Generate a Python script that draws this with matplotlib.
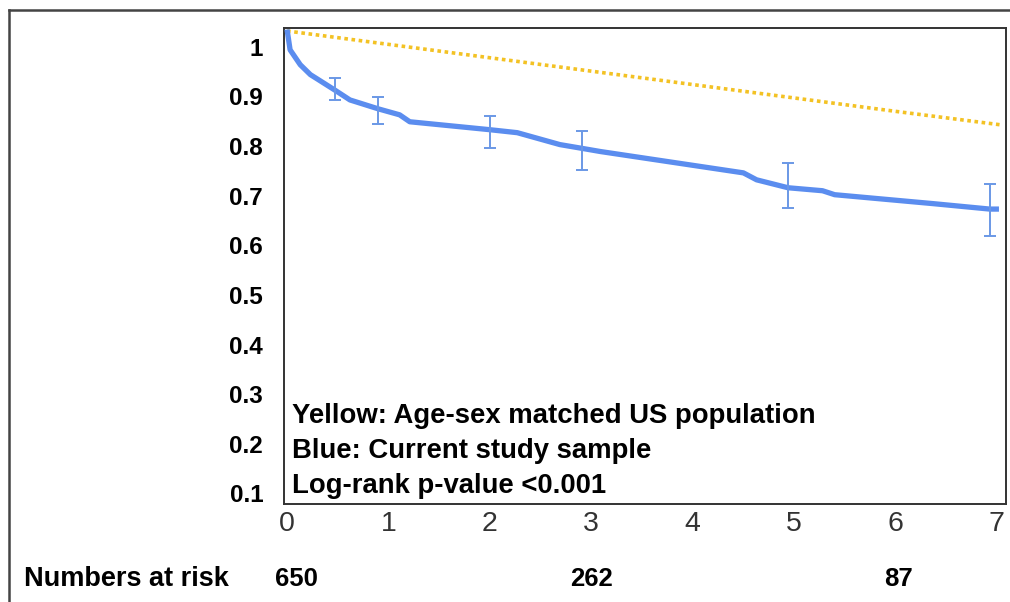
import matplotlib
matplotlib.use("Agg")
import matplotlib.pyplot as plt
from matplotlib.lines import Line2D

plt.rcParams["font.family"] = ["Liberation Sans", "DejaVu Sans"]

# survival curve of the study sample (years, proportion surviving)
study_years = [0, 0.03, 0.13, 0.23, 0.30, 0.47, 0.62, 0.90, 1.11, 1.21, 2.00, 2.27,
               2.69, 2.92, 3.09, 4.50, 4.63, 4.94, 5.28, 5.40, 6.37, 6.93, 7.02]
study_surv = [1.035, 0.994, 0.964, 0.944, 0.935, 0.913, 0.893, 0.875, 0.863, 0.849,
              0.833, 0.827, 0.803, 0.795, 0.789, 0.746, 0.732, 0.716, 0.710, 0.702,
              0.684, 0.673, 0.673]

# confidence bars on the study curve
ci_years = [0.47, 0.90, 2.00, 2.91, 4.94, 6.93]
ci_mid = [0.913, 0.875, 0.833, 0.795, 0.716, 0.673]
ci_low = [0.893, 0.845, 0.796, 0.752, 0.675, 0.619]
ci_high = [0.937, 0.899, 0.861, 0.831, 0.766, 0.724]

# expected survival of the age-sex matched US population
pop_years = [0, 1, 2, 3, 4, 5, 6, 7.03]
pop_surv = [1.032, 1.005, 0.978, 0.951, 0.924, 0.897, 0.870, 0.843]

y_ticks = [0.1, 0.2, 0.3, 0.4, 0.5, 0.6, 0.7, 0.8, 0.9, 1.0]
y_labels = ["0.1", "0.2", "0.3", "0.4", "0.5", "0.6", "0.7", "0.8", "0.9", "1"]
x_ticks = [0, 1, 2, 3, 4, 5, 6, 7]

risk_years = [0.09, 3.0, 6.03]
risk_counts = [650, 262, 87]

notes = ["Yellow: Age-sex matched US population",
         "Blue: Current study sample",
         "Log-rank p-value <0.001"]

BLUE = "#5b8def"
BAR_BLUE = "#6a98e6"
GOLD = "#f3c224"

fig = plt.figure(figsize=(10.1, 6.02), dpi=100)
ax = fig.add_axes([0.2812, 0.1628, 0.7149, 0.7907])

ax.plot(pop_years, pop_surv, color=GOLD, lw=2.6, linestyle=(0, (1, 1)),
        solid_capstyle="butt", zorder=2)
ax.plot(study_years, study_surv, color=BLUE, lw=3.8, solid_joinstyle="round",
        solid_capstyle="butt", zorder=3)
yerr = [[m - lo for m, lo in zip(ci_mid, ci_low)],
        [hi - m for m, hi in zip(ci_mid, ci_high)]]
ax.errorbar(ci_years, ci_mid, yerr=yerr, fmt="none", ecolor=BAR_BLUE,
            elinewidth=1.4, capsize=4.5, capthick=1.4, zorder=4)

ax.set_xlim(-0.03, 7.09)
ax.set_ylim(0.0786, 1.038)
ax.set_xticks(x_ticks)
ax.set_xticklabels([str(t) for t in x_ticks], fontsize=20.5, color="#333333")
ax.set_yticks(y_ticks)
ax.set_yticklabels(y_labels, fontsize=17.5, fontweight="bold")
ax.tick_params(axis="y", length=0, pad=15)
ax.tick_params(axis="x", length=0, pad=5)
for s in ax.spines.values():
    s.set_color("#333333")
    s.set_linewidth(1.4)

for i, line in enumerate(notes):
    ax.text(0.05, 0.256 - i * 0.0705, line, fontsize=19.8, fontweight="bold",
            va="center", ha="left")

# numbers at risk row under the axis
trans = ax.get_xaxis_transform()
fig.text(24 / 1010, 1 - 579 / 602, "Numbers at risk", fontsize=19.5,
         fontweight="bold", va="center", ha="left")
for yr, n in zip(risk_years, risk_counts):
    ax.text(yr, -0.157, str(n), transform=trans, fontsize=18.5, fontweight="bold",
            va="center", ha="center", clip_on=False)

# outer frame (cropped at right and bottom)
x0, y0 = 9 / 1010, 1 - 10 / 602
fig.add_artist(Line2D([x0, x0], [y0, -0.1], color="#444444", lw=1.8,
                      transform=fig.transFigure))
fig.add_artist(Line2D([x0, 1.1], [y0, y0], color="#444444", lw=1.8,
                      transform=fig.transFigure))

fig.savefig("out.png", dpi=100)
